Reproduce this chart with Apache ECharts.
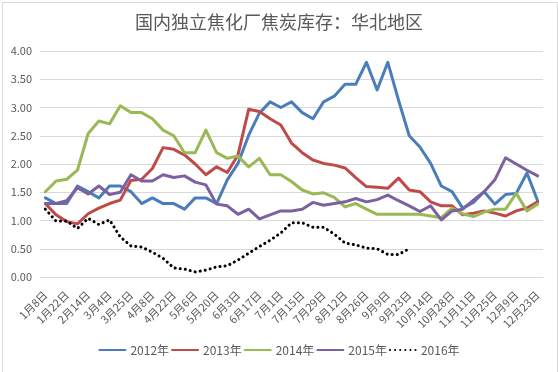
<!DOCTYPE html>
<html>
<head>
<meta charset="utf-8">
<script src="https://cdn.jsdelivr.net/npm/echarts@6/dist/echarts.min.js"></script>
<style>html,body{margin:0;padding:0;background:#fff;}#c{width:558px;height:372px;}</style>
</head>
<body>
<div id="c"></div>
<script>
const categories = ['1月8日','1月15日','1月22日','1月29日','2月14日','2月25日','3月4日','3月11日','3月25日','4月1日','4月8日','4月15日','4月22日','4月29日','5月6日','5月13日','5月20日','5月27日','6月3日','6月10日','6月17日','6月24日','7月1日','7月8日','7月15日','7月22日','7月29日','8月5日','8月12日','8月19日','8月26日','9月2日','9月9日','9月16日','9月23日','9月30日','10月14日','10月21日','10月28日','11月4日','11月11日','11月18日','11月25日','12月2日','12月9日','12月16日','12月23日'];
const s2012 = [1.40,1.30,1.30,1.61,1.51,1.40,1.61,1.61,1.51,1.30,1.40,1.30,1.30,1.20,1.40,1.40,1.30,1.72,2.01,2.51,2.90,3.10,3.00,3.10,2.91,2.80,3.10,3.20,3.41,3.41,3.80,3.31,3.80,3.13,2.50,2.30,2.01,1.61,1.51,1.22,1.32,1.51,1.29,1.46,1.48,1.84,1.35];
const s2013 = [1.30,1.10,0.98,0.94,1.12,1.22,1.30,1.36,1.71,1.73,1.92,2.29,2.26,2.16,2.00,1.81,1.95,1.85,2.16,2.97,2.93,2.80,2.69,2.37,2.20,2.07,2.01,1.98,1.93,1.76,1.60,1.59,1.57,1.75,1.54,1.51,1.33,1.26,1.26,1.10,1.13,1.17,1.13,1.08,1.17,1.22,1.33];
const s2014 = [1.51,1.70,1.73,1.89,2.54,2.76,2.71,3.03,2.91,2.91,2.80,2.60,2.50,2.20,2.20,2.60,2.20,2.10,2.14,1.95,2.10,1.81,1.81,1.69,1.54,1.47,1.49,1.41,1.24,1.30,1.20,1.11,1.11,1.11,1.11,1.11,1.08,1.05,1.22,1.12,1.07,1.15,1.20,1.20,1.48,1.17,1.29];
const s2015 = [1.30,1.30,1.35,1.58,1.47,1.61,1.46,1.50,1.81,1.70,1.70,1.81,1.76,1.79,1.68,1.63,1.29,1.26,1.11,1.20,1.03,1.10,1.17,1.17,1.20,1.32,1.27,1.30,1.33,1.39,1.33,1.37,1.45,1.35,1.26,1.16,1.26,1.01,1.17,1.20,1.36,1.51,1.72,2.11,2.00,1.89,1.79];
const s2016 = [1.20,0.99,0.99,0.86,1.04,0.93,1.01,0.71,0.55,0.53,0.44,0.33,0.16,0.14,0.09,0.12,0.18,0.20,0.30,0.42,0.54,0.65,0.78,0.96,0.96,0.88,0.88,0.76,0.60,0.57,0.51,0.50,0.40,0.40,0.50];
const seriesNames = ['2012年','2013年','2014年','2015年','2016年'];
const titleText = '国内独立焦化厂焦炭库存：华北地区';

const FONT = '"Noto Sans CJK SC", "Noto Sans", sans-serif';
const chart = echarts.init(document.getElementById('c'), null, {renderer: 'canvas'});
const mk = (name, data, color, extra) => Object.assign({
  name, type: 'line', data, symbol: 'none', smooth: false,
  lineStyle: {color, width: 3, cap: 'round', join: 'round'},
  itemStyle: {color}, emphasis: {disabled: true}
}, extra || {});
chart.setOption({
  animation: false,
  backgroundColor: '#fff',
  title: {text: titleText, left: 'center', top: 8,
    textStyle: {fontFamily: FONT, fontSize: 18, fontWeight: 'normal', color: '#595959'}},
  legend: {bottom: 11, left: 'center', itemWidth: 26, itemHeight: 10, itemGap: 2,
    itemStyle: {opacity: 0},
    textStyle: {fontFamily: FONT, fontSize: 12, color: '#595959'},
    data: seriesNames},
  grid: {left: 40, right: 15, top: 51, bottom: 95, containLabel: false},
  xAxis: {type: 'category', data: categories, boundaryGap: true,
    axisLine: {lineStyle: {color: '#d9d9d9'}}, axisTick: {show: false},
    axisLabel: {interval: 1, rotate: 45, margin: 16, fontFamily: FONT, fontSize: 11, color: '#595959'}},
  yAxis: {type: 'value', min: 0, max: 4, interval: 0.5,
    axisLine: {show: false}, axisTick: {show: false},
    splitLine: {lineStyle: {color: '#d9d9d9'}},
    axisLabel: {formatter: v => v.toFixed(2), margin: 8, fontFamily: FONT, fontSize: 11, color: '#595959'}},
  graphic: [{type: 'rect', left: 0, top: 0, silent: true,
    shape: {x: 0.5, y: 0.5, width: 555, height: 370},
    style: {fill: 'none', stroke: '#d9d9d9', lineWidth: 1}}],
  series: [
    mk(seriesNames[0], s2012, '#4A7EBB'),
    mk(seriesNames[1], s2013, '#BE4B48'),
    mk(seriesNames[2], s2014, '#98B954'),
    mk(seriesNames[3], s2015, '#7D60A0'),
    mk(seriesNames[4], s2016, '#000000', {lineStyle: {color: '#000', width: 3, type: [0.1, 5], cap: 'round'}})
  ]
});
</script>
</body>
</html>
